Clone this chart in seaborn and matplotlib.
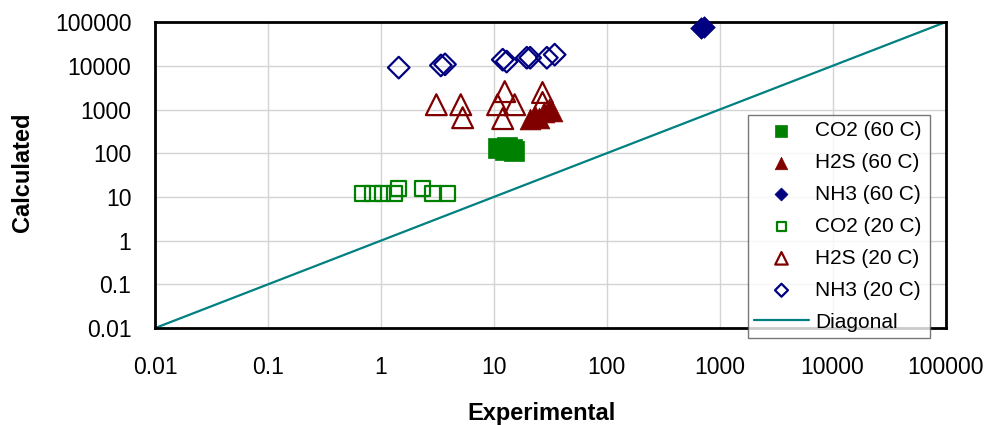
import numpy as np
import pandas as pd
import seaborn as sns
import matplotlib.pyplot as plt

# dados (experimental x calculado)
co2_60_exp = [10.8, 12.5, 14.4, 15.1, 13.0]
co2_60_calc = [130, 118, 125, 112, 140]
h2s_60_exp = [21, 23, 25, 28, 31, 33]
h2s_60_calc = [600, 700, 650, 900, 1050, 950]
nh3_60_exp = [690, 730]
nh3_60_calc = [72000, 78000]
co2_20_exp = [0.69, 0.85, 1.04, 1.33, 1.44, 2.35, 2.9, 3.9]
co2_20_calc = [12, 12, 12, 12, 15.5, 15.5, 12, 12]
h2s_20_exp = [3.1, 5.1, 5.3, 10.8, 12.5, 12.0, 15.3, 27, 27]
h2s_20_calc = [1290, 1290, 650, 1290, 2570, 620, 1290, 2450, 1450]
nh3_20_exp = [1.44, 3.4, 3.7, 12.0, 13.0, 19.6, 21.0, 29.5, 34.6]
nh3_20_calc = [9100, 10200, 10800, 13800, 12500, 15300, 15300, 15300, 18000]
diag = [0.01, 100000]

ticks = [0.01, 0.1, 1, 10, 100, 1000, 10000, 100000]
tick_labels = ["0.01", "0.1", "1", "10", "100", "1000", "10000", "100000"]

series = [
    ("CO2 (60 C)", co2_60_exp, co2_60_calc, "s", "#008000", True, 15),
    ("H2S (60 C)", h2s_60_exp, h2s_60_calc, "^", "#800000", True, 15),
    ("NH3 (60 C)", nh3_60_exp, nh3_60_calc, "D", "#000080", True, 11),
    ("CO2 (20 C)", co2_20_exp, co2_20_calc, "s", "#008000", False, 11),
    ("H2S (20 C)", h2s_20_exp, h2s_20_calc, "^", "#800000", False, 15),
    ("NH3 (20 C)", nh3_20_exp, nh3_20_calc, "D", "#000080", False, 11),
]

sns.set_style("white")
plt.rcParams['font.family'] = ['Liberation Sans', 'DejaVu Sans']
plt.rcParams['text.color'] = 'black'
plt.rcParams['axes.labelcolor'] = 'black'
plt.rcParams['xtick.color'] = 'black'
plt.rcParams['ytick.color'] = 'black'

fig = plt.figure(figsize=(9.87, 4.25), dpi=100)
ax = fig.add_axes([0.157, 0.228, 0.801, 0.72])

for nome, xs, ys, mk, cor, cheio, tam in series:
    df = pd.DataFrame({"Experimental": xs, "Calculated": ys})
    sns.scatterplot(
        data=df, x="Experimental", y="Calculated", ax=ax,
        marker=mk, s=tam ** 2,
        color=cor if cheio else "none",
        edgecolor=cor, linewidth=1.6 if not cheio else 0.5,
        label=nome, clip_on=False, zorder=3,
    )

df_diag = pd.DataFrame({"Experimental": diag, "Calculated": diag})
sns.lineplot(data=df_diag, x="Experimental", y="Calculated", ax=ax,
             color="#008080", linewidth=1.6, label="Diagonal", zorder=2)

ax.set_xscale("log")
ax.set_yscale("log")
ax.set_xlim(0.01, 100000)
ax.set_ylim(0.01, 100000)
ax.set_xticks(ticks, tick_labels)
ax.set_yticks(ticks, tick_labels)
ax.minorticks_off()
ax.grid(True, color="#d4d4d4", linewidth=1)
ax.tick_params(axis="both", direction="out", length=4, width=1,
               labelsize=16.5, color="black", labelcolor="black")
ax.tick_params(axis="x", pad=16)
ax.tick_params(axis="y", pad=13)
for sp in ax.spines.values():
    sp.set_color("black")
    sp.set_linewidth(2)

ax.set_xlabel("Experimental", fontsize=17, fontweight="bold")
ax.set_ylabel("Calculated", fontsize=17, fontweight="bold")
ax.xaxis.set_label_coords(0.489, -0.278)
ax.xaxis.label.set_va("center")
ax.yaxis.set_label_coords(-0.167, 0.51)
ax.yaxis.label.set_va("center")

leg = ax.legend(loc="lower left", bbox_to_anchor=(0.758, 0.205, 0.184, 0.466),
                bbox_transform=fig.transFigure, mode="expand",
                fontsize=15, frameon=True, fancybox=False, markerscale=0.6,
                handlelength=2.6, handletextpad=0.3, labelspacing=0.62,
                borderpad=0.3, borderaxespad=0)
leg.get_frame().set_edgecolor("#555555")
leg.get_frame().set_linewidth(1)
leg.get_frame().set_facecolor("white")

fig.savefig("out.png", dpi=100)
